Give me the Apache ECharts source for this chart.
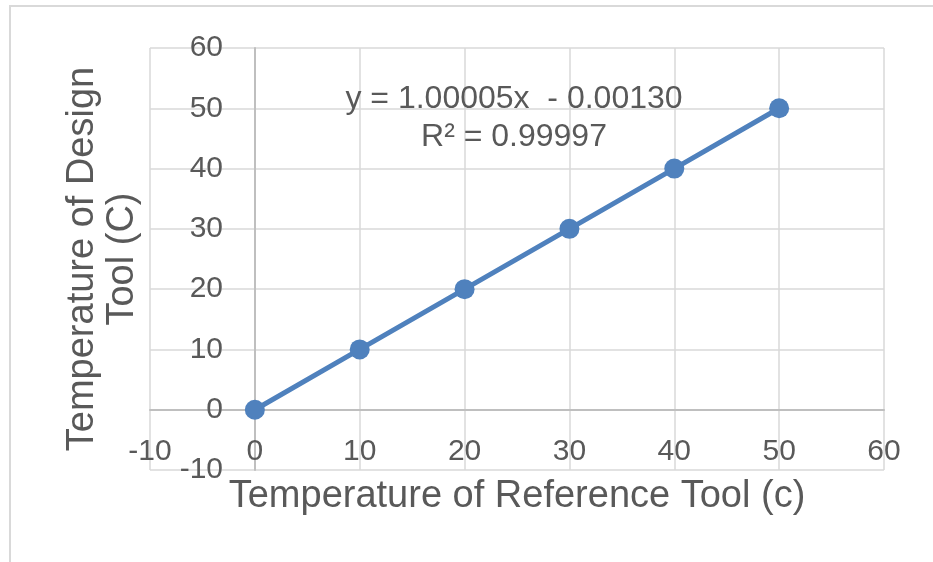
<!DOCTYPE html>
<html>
<head>
<meta charset="utf-8">
<script src="https://cdn.jsdelivr.net/npm/echarts@6/dist/echarts.min.js"></script>
<style>
html,body{margin:0;padding:0;background:#fff;}
#chart{width:933px;height:562px;}
</style>
</head>
<body>
<div id="chart"></div>
<script>
// Data
var referenceTemps = [0, 10, 20, 30, 40, 50];
var designTemps = [0, 10, 20, 30, 40, 50];
var xAxisTitle = 'Temperature of Reference Tool (c)';
var yAxisTitle = 'Temperature of Design\nTool (C)';
var equationText = 'y = 1.00005x  - 0.00130\nR\u00B2 = 0.99997';
var axisMin = -10, axisMax = 60, axisStep = 10;

var points = referenceTemps.map(function (x, i) { return [x, designTemps[i]]; });

var FONT = '"Liberation Sans", Arial, sans-serif';
var TXT = '#595959';
var GRID = '#d9d9d9';
var AXIS = '#bfbfbf';
var BLUE = '#4f81bd';

var chart = echarts.init(document.getElementById('chart'), null, {renderer: 'canvas'});
chart.setOption({
  animation: false,
  backgroundColor: '#fff',
  title: {
    text: equationText,
    left: 509,
    top: 75,
    textAlign: 'center',
    textStyle: {
      fontFamily: FONT, fontSize: 32, fontWeight: 'normal', color: TXT, lineHeight: 38
    }
  },
  grid: {left: 150, top: 48, right: 49, bottom: 92, containLabel: false, outerBoundsMode: 'none'},
  xAxis: {
    type: 'value',
    min: axisMin, max: axisMax, interval: axisStep,
    name: xAxisTitle,
    nameLocation: 'middle',
    nameGap: 8,
    nameTextStyle: {fontFamily: FONT, fontSize: 38, color: TXT, verticalAlign: 'top'},
    axisLine: {onZero: true, lineStyle: {color: AXIS, width: 2}},
    axisTick: {show: false},
    axisLabel: {fontFamily: FONT, fontSize: 30, color: TXT, margin: -33},
    splitLine: {show: true, lineStyle: {color: GRID, width: 1.5}}
  },
  yAxis: {
    type: 'value',
    min: axisMin, max: axisMax, interval: axisStep,
    name: yAxisTitle,
    nameLocation: 'middle',
    nameRotate: 90,
    nameGap: 7,
    nameTextStyle: {fontFamily: FONT, fontSize: 38, color: TXT, lineHeight: 40},
    axisLine: {onZero: true, lineStyle: {color: AXIS, width: 2}},
    axisTick: {show: false},
    axisLabel: {fontFamily: FONT, fontSize: 30, color: TXT, margin: -73},
    splitLine: {show: true, lineStyle: {color: GRID, width: 1.5}}
  },
  series: [{
    type: 'line',
    data: points,
    symbol: 'circle',
    symbolSize: 20,
    itemStyle: {color: BLUE},
    lineStyle: {color: BLUE, width: 5},
    z: 5
  }],
  graphic: [{
    type: 'polyline',
    shape: {points: [[10, 562], [10, 6], [933, 6]]},
    style: {stroke: '#d9d9d9', lineWidth: 2, fill: null},
    silent: true
  }]
});
</script>
</body>
</html>
